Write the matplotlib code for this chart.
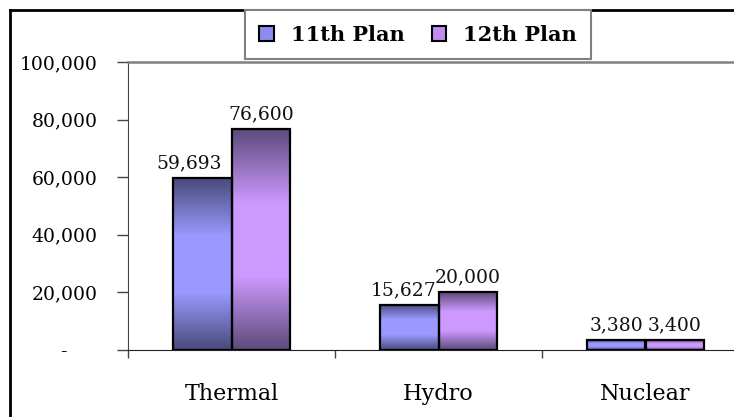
import numpy as np
import matplotlib
matplotlib.use("Agg")
import matplotlib.pyplot as plt
from matplotlib.colors import LinearSegmentedColormap
from matplotlib.lines import Line2D
from matplotlib.patches import Patch
from matplotlib.ticker import FuncFormatter, FixedLocator

categories = ["Thermal", "Hydro", "Nuclear"]
series_names = ["11th Plan", "12th Plan"]
plan_11 = [59693, 15627, 3380]
plan_12 = [76600, 20000, 3400]

# dark edge / light centre for the shaded bars
shades = [("#4a4a7c", "#9999ff"), ("#5e4a7a", "#cc99ff")]
legend_faces = ["#8c8cf0", "#c08cf0"]
# horizontal nudge (points) of the value labels, per series
label_nudge = [[-9, -4, 0], [0, 0, 0]]

plt.rcParams["font.family"] = "DejaVu Serif"

fig = plt.figure(figsize=(7.34, 4.17), dpi=100)
W, H = 734, 417
# plot area is 207 px per category; the last one is cut by the image edge
cat_px = 207
ax = fig.add_axes([128 / W, 1 - 350 / H, (W - 128) / W, 288 / H])

x = np.arange(len(categories))
width = 0.285
grad = np.linspace(0, 1, 256).reshape(-1, 1)

for i, (vals, (dark, light)) in enumerate(zip([plan_11, plan_12], shades)):
    cmap = LinearSegmentedColormap.from_list("bar%d" % i, [dark, light, light, dark], N=256)
    bars = ax.bar(x + (i - 0.5) * width, vals, width, facecolor="none",
                  edgecolor="black", linewidth=1.6, zorder=3)
    for b, v, dx in zip(bars, vals, label_nudge[i]):
        x0 = b.get_x()
        ax.imshow(grad, cmap=cmap, aspect="auto", zorder=2,
                  extent=(x0, x0 + b.get_width(), 0, b.get_height()),
                  interpolation="bilinear")
        ax.annotate(f"{v:,}", (x0 + b.get_width() / 2, v), xytext=(dx, 4),
                    textcoords="offset points", ha="center", va="bottom",
                    fontsize=13.5, color="#111111")

ax.set_xlim(-0.5, -0.5 + (W - 128) / cat_px)
ax.set_ylim(0, 100000)

ax.yaxis.set_major_locator(FixedLocator(np.arange(0, 100001, 20000)))
ax.yaxis.set_major_formatter(FuncFormatter(lambda v, p: "-     " if v == 0 else f"{int(v):,}"))
ax.tick_params(axis="y", direction="out", length=8, width=1, color="#444444",
               pad=14, labelsize=13.5)

ax.set_xticks(x)
ax.set_xticklabels(categories)
ax.set_xticks(np.arange(-0.5, len(categories) - 0.5), minor=True)
ax.tick_params(axis="x", which="major", length=0, pad=24, labelsize=16)
ax.tick_params(axis="x", which="minor", direction="out", length=6, width=1, color="#444444")

ax.spines["right"].set_visible(False)
ax.spines["top"].set_color("#808080")
ax.spines["top"].set_linewidth(1.8)
ax.spines["left"].set_color("#444444")
ax.spines["bottom"].set_color("#222222")

# chart frame: only the top and left edges fall inside the image
fy = 1 - 10 / H
fx = 10 / W
fig.add_artist(Line2D([fx, 1.0], [fy, fy], transform=fig.transFigure, color="black", lw=2))
fig.add_artist(Line2D([fx, fx], [0.0, fy], transform=fig.transFigure, color="black", lw=2))

handles = [Patch(facecolor=c, edgecolor="black", linewidth=1.5) for c in legend_faces]
leg = fig.legend(handles, series_names, loc="upper center",
                 bbox_to_anchor=(418 / W, 1 - 10 / H), ncol=2, frameon=True,
                 fancybox=False, edgecolor="#808080", framealpha=1,
                 prop={"weight": "bold", "size": 15},
                 handlelength=0.7, handleheight=0.7, handletextpad=0.8,
                 columnspacing=1.3, borderpad=0.7, borderaxespad=0)
leg.get_frame().set_linewidth(1.5)

fig.savefig("out.png", dpi=100)
